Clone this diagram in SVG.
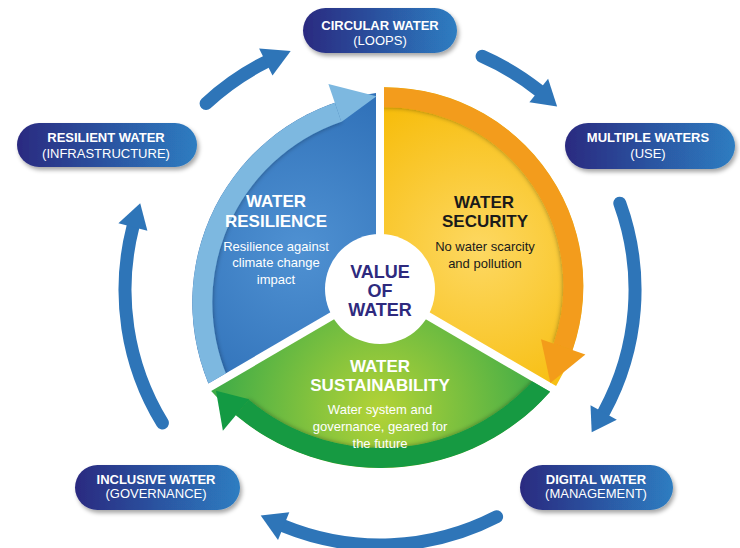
<svg xmlns="http://www.w3.org/2000/svg" width="740" height="548" viewBox="0 0 740 548">
<style>
.pill{filter:url(#sh)}
.t1{font-family:"Liberation Sans",Arial,sans-serif;font-weight:bold;font-size:13px;fill:#fff;text-anchor:middle}
.t2{font-family:"Liberation Sans",Arial,sans-serif;font-size:13px;fill:#fff;text-anchor:middle}
.st{font-family:"Liberation Sans",Arial,sans-serif;font-weight:bold;font-size:17px;text-anchor:middle}
.sb{font-family:"Liberation Sans",Arial,sans-serif;font-size:13px;text-anchor:middle}
.hub{font-family:"Liberation Sans",Arial,sans-serif;font-weight:bold;font-size:18px;fill:#2e2a7e;text-anchor:middle}
.arr{fill:none;stroke:#2e75b8;stroke-width:13;stroke-linecap:round}
.ah{fill:#2e75b8}
</style>
<defs>
<linearGradient id="pg" x1="0" y1="0" x2="1" y2="0">
<stop offset="0" stop-color="#2b2a80"/><stop offset="1" stop-color="#2d7dc1"/>
</linearGradient>
<radialGradient id="gb" cx="300" cy="250" r="200" gradientUnits="userSpaceOnUse">
<stop offset="0" stop-color="#4f91d2"/><stop offset="1" stop-color="#2a6bb4"/>
</radialGradient>
<radialGradient id="go" cx="480" cy="250" r="190" gradientUnits="userSpaceOnUse">
<stop offset="0" stop-color="#fdd862"/><stop offset="1" stop-color="#f6b900"/>
</radialGradient>
<radialGradient id="gg" cx="380" cy="410" r="190" gradientUnits="userSpaceOnUse">
<stop offset="0" stop-color="#b4d336"/><stop offset="1" stop-color="#2ea64a"/>
</radialGradient>
<filter id="sh" x="-20%" y="-30%" width="140%" height="170%">
<feDropShadow dx="2" dy="3" stdDeviation="2" flood-color="#000" flood-opacity="0.35"/>
</filter>
<filter id="bs" x="-20%" y="-20%" width="140%" height="140%">
<feDropShadow dx="0" dy="0" stdDeviation="2.5" flood-color="#000" flood-opacity="0.4"/>
</filter>
<clipPath id="cb"><path d="M376,285.7 L376,93 A211.3,211.3 0 0 0 208.4,383.4 Z"/></clipPath>
<clipPath id="co"><path d="M384,285.7 L384,87.2 A198.4,198.4 0 0 1 556.1,386 Z"/></clipPath>
<clipPath id="cg"><path d="M380,292.6 L550.1,391.8 A225.7,225.7 0 0 1 211.2,391.1 Z"/></clipPath>
</defs>
<rect width="740" height="548" fill="#fff"/>

<g id="water-resilience">
<path d="M376,285.7 L376,93 A211.3,211.3 0 0 0 208.4,383.4 Z" fill="url(#gb)"/>
<g clip-path="url(#cb)"><path d="M229.3,403.2 A201.3,201.3 0 0 1 338.1,112.2" fill="none" stroke="#7db8e0" stroke-width="20" filter="url(#bs)"/></g>
<path d="M328.4,84.1 L376.5,96.3 L341.4,121.9 Z" fill="#7db8e0"/>
<text class="st" x="276" y="207" fill="#fff">WATER</text>
<text class="st" x="276" y="227" fill="#fff">RESILIENCE</text>
<text class="sb" x="276" y="250.5" fill="#fff">Resilience against</text>
<text class="sb" x="276" y="267" fill="#fff">climate change</text>
<text class="sb" x="276" y="283.5" fill="#fff">impact</text>
</g>

<g id="water-security">
<path d="M384,285.7 L384,87.2 A198.4,198.4 0 0 1 556.1,386 Z" fill="url(#go)"/>
<g clip-path="url(#co)"><path d="M368.6,97.9 A188.4,188.4 0 0 1 563.1,346.9" fill="none" stroke="#f39c1a" stroke-width="20" filter="url(#bs)"/></g>
<path d="M585.4,354.6 L550.4,383 L541,339.3 Z" fill="#f39c1a"/>
<text class="st" x="484" y="208" fill="#1a1a1a">WATER</text>
<text class="st" x="485" y="227" fill="#1a1a1a">SECURITY</text>
<text class="sb" x="485" y="250.5" fill="#1a1a1a">No water scarcity</text>
<text class="sb" x="485" y="267.5" fill="#1a1a1a">and pollution</text>
</g>

<g id="water-sustainability">
<path d="M380,292.6 L550.1,391.8 A225.7,225.7 0 0 1 211.2,391.1 Z" fill="url(#gg)"/>
<g clip-path="url(#cg)"><path d="M567.8,350.2 A215.7,215.7 0 0 1 242.35,407.5" fill="none" stroke="#139a43" stroke-width="20" filter="url(#bs)"/></g>
<path d="M222.9,430.7 L216,390.8 L249.2,399.3 Z" fill="#139a43"/>
<text class="st" x="380" y="372" fill="#fff">WATER</text>
<text class="st" x="380" y="391" fill="#fff">SUSTAINABILITY</text>
<text class="sb" x="380" y="413.5" fill="#fff">Water system and</text>
<text class="sb" x="380" y="430.5" fill="#fff">governance, geared for</text>
<text class="sb" x="380" y="447.5" fill="#fff">the future</text>
</g>

<g id="value-of-water">
<circle cx="380" cy="289" r="55" fill="#fff"/>
<text class="hub" x="380" y="277.5">VALUE</text>
<text class="hub" x="380" y="296.5">OF</text>
<text class="hub" x="380" y="315.5">WATER</text>
</g>

<g id="connectors">
<path class="arr" d="M206.1,103.5 A255,255 0 0 1 265.8,62"/>
<path class="ah" d="M259.1,48.6 L290.7,51.1 L272.5,75.4 Z"/>
<path class="arr" d="M482.1,56.3 A255,255 0 0 1 538.7,90.4"/>
<path class="ah" d="M548.1,78.7 L557.1,106.6 L529.4,102.2 Z"/>
<path class="arr" d="M619.8,203.2 A255,255 0 0 1 603.7,412.5"/>
<path class="ah" d="M616.8,419.7 L591.7,432.2 L590.5,405.2 Z"/>
<path class="arr" d="M496.6,516.8 A255,255 0 0 1 283.7,526.1"/>
<path class="ah" d="M278,540 L260.7,515.4 L289.3,512.2 Z"/>
<path class="arr" d="M162.4,422.9 A255,255 0 0 1 132.9,227"/>
<path class="ah" d="M147.4,230.7 L140.2,203.2 L118.4,223.3 Z"/>
</g>

<g id="circular-water">
<rect class="pill" x="303" y="8" width="154" height="45" rx="22.5" fill="url(#pg)"/>
<text class="t1" x="380" y="29.5">CIRCULAR WATER</text>
<text class="t2" x="380" y="44.5">(LOOPS)</text>
</g>
<g id="multiple-waters">
<rect class="pill" x="565" y="123" width="170" height="46" rx="23" fill="url(#pg)"/>
<text class="t1" x="648" y="141.5">MULTIPLE WATERS</text>
<text class="t2" x="648" y="157.5">(USE)</text>
</g>
<g id="digital-water">
<rect class="pill" x="520" y="465" width="153" height="45" rx="22.5" fill="url(#pg)"/>
<text class="t1" x="596" y="483.5">DIGITAL WATER</text>
<text class="t2" x="596" y="497.5">(MANAGEMENT)</text>
</g>
<g id="inclusive-water">
<rect class="pill" x="75" y="465" width="165" height="45" rx="22.5" fill="url(#pg)"/>
<text class="t1" x="156" y="483.5">INCLUSIVE WATER</text>
<text class="t2" x="156" y="497.5">(GOVERNANCE)</text>
</g>
<g id="resilient-water">
<rect class="pill" x="17" y="123" width="180" height="44" rx="22" fill="url(#pg)"/>
<text class="t1" x="106" y="141.5">RESILIENT WATER</text>
<text class="t2" x="106" y="157.5">(INFRASTRUCTURE)</text>
</g>
</svg>
